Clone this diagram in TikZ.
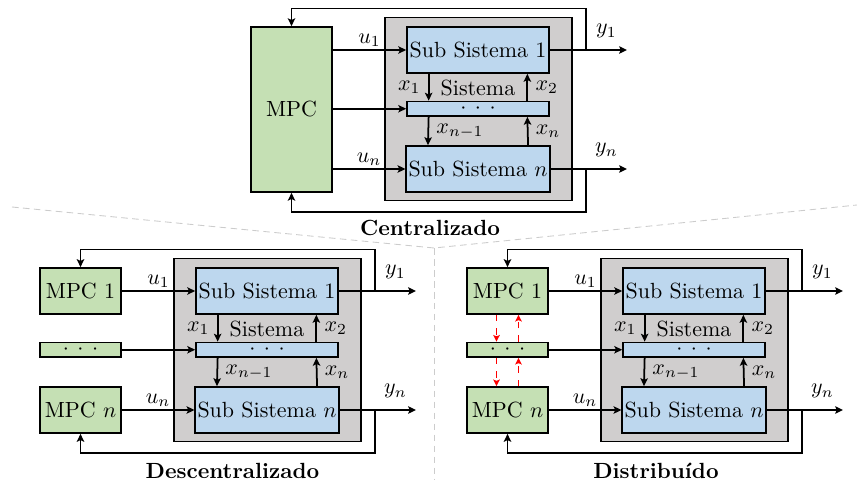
\documentclass[tikz,border=0pt]{standalone}
\usepackage{xcolor}
\usepackage{tikz}
\usetikzlibrary{positioning, arrows.meta}

\definecolor{verdeMPC}{RGB}{197,224,180}
\definecolor{azulSub}{RGB}{189,215,238}
\definecolor{cinzaSis}{RGB}{208,206,206}

% planta comum aos tres esquemas (coordenadas locais)
\newcommand{\planta}{%
    \node[sistema] (sis) at (93.5,82) {};
    \node[subsis] (sub1) at (93,23) {Sub Sistema 1};
    \node[barra, fill=azulSub, minimum width=2.272cm] (meio) at (93,81.75) {$\cdotp\:\cdotp\:\cdotp$};
    \node[subsis] (subn) at (93,142) {Sub Sistema $n$};
    \node[inner sep=0pt] (rsis) at (93,61) {Sistema};
    % estados entre subsistemas
    \draw[relation] ([xshift=0.36cm]sub1.south west) -- node[left] {$x_1$} ([xshift=0.36cm]meio.north west);
    \draw[relation] ([xshift=-0.36cm]meio.north east) -- node[right] {$x_2$} ([xshift=-0.36cm]sub1.south east);
    \draw[relation] ([xshift=0.36cm]meio.south west) -- node[right] {$x_{n-1}$} ([xshift=0.36cm]subn.north west);
    \draw[relation] ([xshift=-0.36cm]subn.north east) -- node[right] {$x_n$} ([xshift=-0.36cm]meio.south east);
    % saidas
    \coordinate (r1) at (201,23);
    \coordinate (rn) at (201,142);
    \coordinate (y1fim) at (242,23);
    \coordinate (ynfim) at (242,142);
    \coordinate (fb1) at (201,-18.5);
    \coordinate (fbn) at (201,185);
    \draw[thick] (sub1.east) -- (r1);
    \draw[thick] (subn.east) -- (rn);
    \draw[relation] (r1) -- node[rotulo, yshift=4pt] {$y_1$} (y1fim);
    \draw[relation] (rn) -- node[rotulo, yshift=4pt] {$y_n$} (ynfim);
}

\begin{document}
\begin{tikzpicture}[
        x=0.016cm, y=-0.016cm,
        bloco/.style={rectangle, draw=black, thick, inner sep=1pt, align=center},
        subsis/.style={bloco, fill=azulSub, minimum width=2.272cm, minimum height=0.736cm},
        barra/.style={bloco, minimum height=0.232cm, inner sep=0pt},
        mpc/.style={bloco, fill=verdeMPC, minimum width=1.296cm, minimum height=0.736cm},
        sistema/.style={rectangle, draw=black, thick, fill=cinzaSis, minimum width=2.992cm, minimum height=2.928cm},
        relation/.style={->, thick, >={Stealth[length=3.6pt, width=3.4pt, inset=0.8pt]}},
        troca/.style={->, semithick, dashed, red, >={Stealth[length=3pt, width=3pt, inset=0.6pt]}},
        rotulo/.style={midway, above, inner sep=1pt},
        titulo/.style={font=\bfseries},
        separador/.style={black!20, dash pattern=on 3pt off 2pt}
    ]
        \useasboundingbox (0,0) rectangle (857,483);

        % Separadores
        \draw[separador] (12,207) -- (434,248) -- (857,205);
        \draw[separador] (434,248) -- (434,480);

        % Centralizado
        \begin{scope}[shift={(385,27)}, name prefix=c-]
            \planta
            \node[mpc, minimum height=2.64cm] (mpc) at (-93.5,82.5) {MPC};
            \draw[relation] (mpc.east |- sub1) -- node[rotulo] {$u_1$} (sub1);
            \draw[relation] (mpc.east |- meio) -- (meio);
            \draw[relation] (mpc.east |- subn) -- node[rotulo] {$u_n$} (subn);
            \draw[relation] (r1) -- (fb1) -| (mpc.north);
            \draw[relation] (rn) -- (fbn) -| (mpc.south);
            \node[titulo] (tit) at (45,201) {Centralizado};
        \end{scope}

        % Descentralizado
        \begin{scope}[shift={(174,268)}, name prefix=d-]
            \planta
            \node[mpc] (mpc1) at (-93.5,23) {MPC 1};
            \node[mpc, barra, fill=verdeMPC] (mpcd) at (-93.5,81.75) {$\cdotp\:\cdotp\:\cdotp$};
            \node[mpc] (mpcn) at (-93.5,142) {MPC $n$};
            \draw[relation] (mpc1) -- node[rotulo] {$u_1$} (sub1);
            \draw[relation] (mpcd) -- (meio);
            \draw[relation] (mpcn) -- node[rotulo] {$u_n$} (subn);
            \draw[relation] (r1) -- (fb1) -| (mpc1.north);
            \draw[relation] (rn) -- (fbn) -| (mpcn.south);
            \node[titulo] (tit) at (58.5,203) {Descentralizado};
        \end{scope}

        % Distribuido
        \begin{scope}[shift={(601,268)}, name prefix=r-]
            \planta
            \node[mpc] (mpc1) at (-93.5,23) {MPC 1};
            \node[mpc, barra, fill=verdeMPC] (mpcd) at (-93.5,81.75) {$\cdotp\:\cdotp\:\cdotp$};
            \node[mpc] (mpcn) at (-93.5,142) {MPC $n$};
            \draw[relation] (mpc1) -- node[rotulo] {$u_1$} (sub1);
            \draw[relation] (mpcd) -- (meio);
            \draw[relation] (mpcn) -- node[rotulo] {$u_n$} (subn);
            \draw[relation] (r1) -- (fb1) -| (mpc1.north);
            \draw[relation] (rn) -- (fbn) -| (mpcn.south);
            % troca de informacao entre controladores
            \draw[troca] ([xshift=-0.176cm]mpc1.south) -- ([xshift=-0.176cm]mpcd.north);
            \draw[troca] ([xshift=0.176cm]mpcd.north) -- ([xshift=0.176cm]mpc1.south);
            \draw[troca] ([xshift=-0.176cm]mpcd.south) -- ([xshift=-0.176cm]mpcn.north);
            \draw[troca] ([xshift=0.176cm]mpcn.north) -- ([xshift=0.176cm]mpcd.south);
            \node[titulo] (tit) at (55,203) {Distribuído};
        \end{scope}
    \end{tikzpicture}
\end{document}
